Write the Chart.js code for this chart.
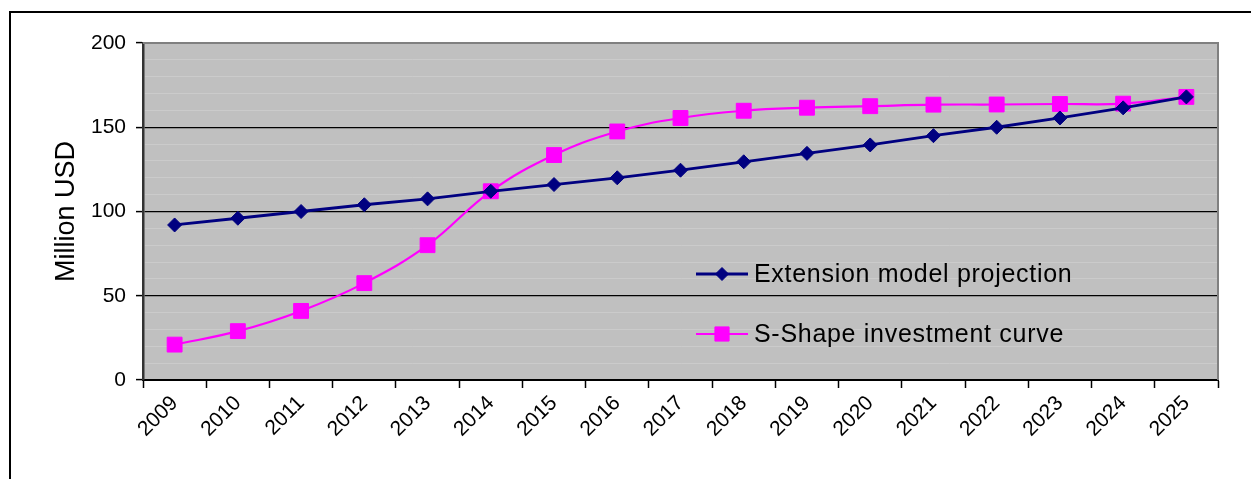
<!DOCTYPE html>
<html>
<head>
<meta charset="utf-8">
<script src="https://cdn.jsdelivr.net/npm/chart.js@4/dist/chart.umd.min.js"></script>
<style>
  html, body { margin: 0; padding: 0; background: #ffffff; }
  #wrap { position: relative; width: 1251px; height: 479px; overflow: hidden; }
  #frame { position: absolute; left: 9px; top: 11px; width: 1300px; height: 600px;
           border-left: 2px solid #000; border-top: 2px solid #000; }
  canvas { position: absolute; left: 0; top: 0; }
</style>
</head>
<body>
<div id="wrap">
  <div id="frame"></div>
  <canvas id="c" width="1251" height="479"></canvas>
</div>
<script>
const years = ['2009','2010','2011','2012','2013','2014','2015','2016','2017','2018','2019','2020','2021','2022','2023','2024','2025'];
const extensionModel = [92, 96, 100, 104, 107.5, 112, 116, 120, 124.5, 129.5, 134.5, 139.5, 145, 150, 155.5, 161.5, 168];
const sShapeCurve = [21, 29, 41, 57.5, 80, 112, 133.5, 147.5, 155.5, 159.8, 161.6, 162.5, 163.4, 163.5, 163.8, 164, 168];
const seriesNames = ['Extension model projection', 'S-Shape investment curve'];
const yAxisTitle = 'Million USD';

const FONT = "'Liberation Sans', Arial, sans-serif";

const plotBg = {
  id: 'plotBg',
  beforeDraw(chart) {
    const {ctx, chartArea: a} = chart;
    ctx.save();
    ctx.fillStyle = '#c0c0c0';
    ctx.fillRect(a.left, a.top, a.right - a.left, a.bottom - a.top);
    ctx.restore();
  },
  beforeDatasetsDraw(chart) {
    const {ctx, chartArea: a} = chart;
    ctx.save();
    ctx.strokeStyle = '#808080';
    ctx.lineWidth = 2;
    ctx.beginPath();
    ctx.moveTo(a.left, a.top);
    ctx.lineTo(a.right, a.top);
    ctx.lineTo(a.right, a.bottom);
    ctx.stroke();
    ctx.restore();
  }
};

const innerLegend = {
  id: 'innerLegend',
  afterDraw(chart) {
    const {ctx, chartArea: a} = chart;
    const x0 = a.left + 553, x1 = a.left + 605;
    const rows = [a.top + 231, a.top + 291];
    ctx.save();
    chart.data.datasets.forEach((ds, i) => {
      const y = rows[i];
      ctx.strokeStyle = ds.borderColor;
      ctx.lineWidth = ds.borderWidth;
      ctx.beginPath();
      ctx.moveTo(x0, y);
      ctx.lineTo(x1, y);
      ctx.stroke();
      ctx.fillStyle = ds.pointBackgroundColor;
      ctx.strokeStyle = ds.pointBorderColor;
      ctx.lineWidth = 1;
      Chart.helpers.drawPoint(ctx, {pointStyle: ds.pointStyle, radius: ds.legendRadius, borderWidth: 1}, (x0 + x1) / 2, y);
      ctx.fillStyle = '#000';
      ctx.font = '25px ' + FONT;
      ctx.textBaseline = 'middle';
      ctx.textAlign = 'left';
      try { ctx.letterSpacing = '0.7px'; } catch (e) {}
      ctx.fillText(ds.label, x1 + 6, y + 1);
    });
    ctx.restore();
  }
};

new Chart(document.getElementById('c'), {
  type: 'line',
  data: {
    labels: years,
    datasets: [
      {
        label: seriesNames[0],
        data: extensionModel,
        borderColor: '#000080',
        backgroundColor: '#000080',
        borderWidth: 2.8,
        pointStyle: 'rectRot',
        pointRadius: 7,
        legendRadius: 6.5,
        pointBackgroundColor: '#000080',
        pointBorderColor: '#000080',
        pointBorderWidth: 1,
        tension: 0
      },
      {
        label: seriesNames[1],
        data: sShapeCurve,
        borderColor: '#ff00ff',
        backgroundColor: '#ff00ff',
        borderWidth: 2.2,
        pointStyle: 'rect',
        pointRadius: 10.5,
        legendRadius: 10,
        pointBackgroundColor: '#ff00ff',
        pointBorderColor: '#ff00ff',
        pointBorderWidth: 1,
        tension: 0.4
      }
    ]
  },
  options: {
    responsive: false,
    animation: false,
    devicePixelRatio: 1,
    layout: { padding: { left: 0, right: 33, top: 43, bottom: 0 } },
    plugins: { legend: { display: false }, tooltip: { enabled: false } },
    scales: {
      x: {
        type: 'category',
        offset: true,
        afterFit(s) { s.height = 99; },
        grid: {
          offset: true,
          drawOnChartArea: false,
          drawTicks: true,
          tickLength: 8,
          tickColor: '#000',
          tickWidth: 1.5
        },
        border: { color: '#000', width: 2 },
        ticks: {
          color: '#000',
          font: { family: FONT, size: 21 },
          maxRotation: 45,
          minRotation: 45,
          autoSkip: false,
          padding: 3
        }
      },
      y: {
        min: 0,
        max: 200,
        afterFit(s) { s.width = 143; },
        ticks: {
          stepSize: 10,
          autoSkip: false,
          color: '#000',
          font: { family: FONT, size: 21 },
          padding: 10,
          callback: (v) => (v % 50 === 0 ? String(v) : '')
        },
        grid: {
          color: (c) => {
            const v = c.tick.value;
            if (v === 200) return '#808080';
            if (v === 0) return 'rgba(0,0,0,0)';
            return v % 50 === 0 ? '#000000' : '#cbcbcb';
          },
          lineWidth: (c) => (c.tick.value % 50 === 0 ? 1.2 : 1),
          tickLength: 7,
          tickColor: (c) => (c.tick.value % 50 === 0 ? '#000' : 'rgba(0,0,0,0)'),
          tickWidth: 1.5
        },
        border: { color: '#333333', width: 2.5 },
        title: {
          display: true,
          text: yAxisTitle,
          color: '#000',
          font: { family: FONT, size: 27 },
          padding: { top: 50, bottom: 0 }
        }
      }
    }
  },
  plugins: [plotBg, innerLegend]
});
</script>
</body>
</html>
